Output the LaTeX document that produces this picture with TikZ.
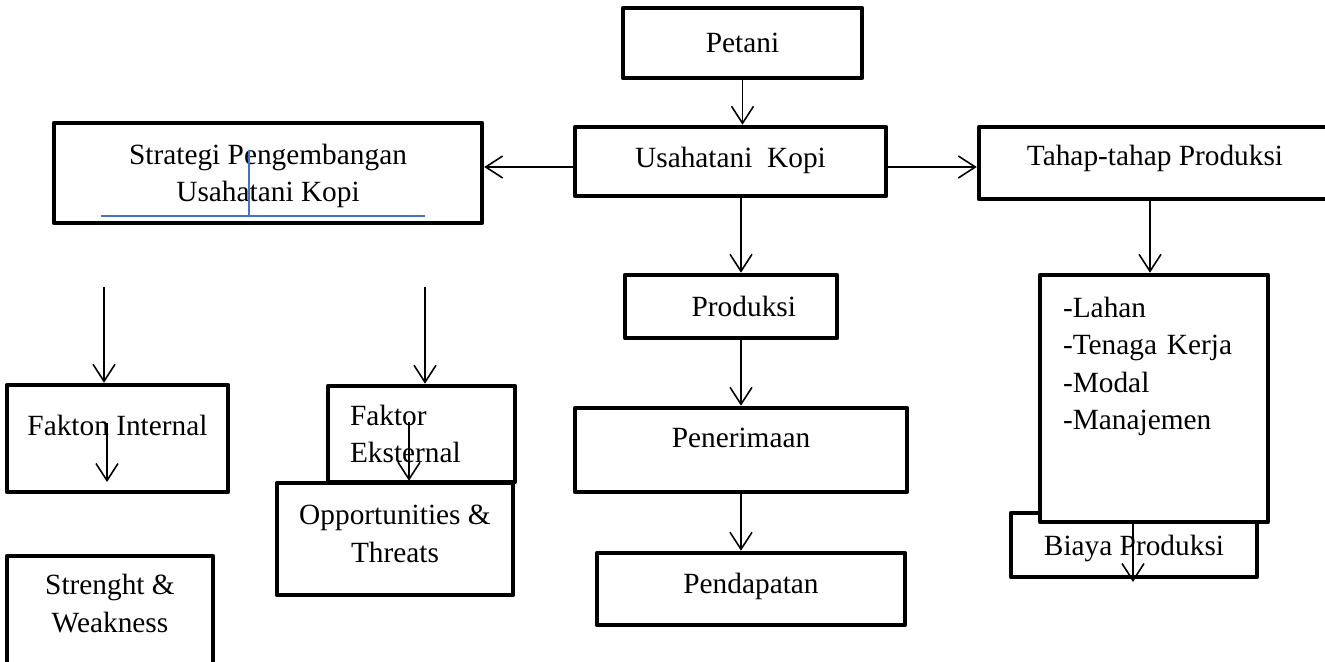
\documentclass[tikz,border=0pt]{standalone}
\usepackage{fontspec}
\setmainfont{Liberation Serif}
\usetikzlibrary{arrows.meta}
\definecolor{lineblue}{RGB}{68,114,196}

\tikzset{
  box/.style={draw, line width=2.6pt, line join=round, rectangle, inner sep=0pt,
    text depth=0pt, font=\fontsize{16.7}{21.4}\selectfont},
  arr/.style={line width=0.9pt, -{Straight Barb[length=3.4mm,width=4.4mm]}},
  blueline/.style={lineblue, line width=1.1pt}
}

\begin{document}
\begin{tikzpicture}[x=0.02cm, y=-0.02cm]
\useasboundingbox (0,0) rectangle (1325,662);
\clip (0,0) rectangle (1325,662);

% middle column
\node[box, minimum width=4.78cm, minimum height=1.4cm] (petani) at (742.5,43) {Petani};
\node[box, minimum width=6.22cm, minimum height=1.38cm, text depth=0.16cm] (usaha) at (730.5,161.5) {Usahatani\ \ Kopi};
\node[box, minimum width=4.24cm, minimum height=1.26cm, align=right, text width=2.6cm, inner xsep=0.82cm] (prod) at (731,306.5) {Produksi};
\node[box, minimum width=6.64cm, minimum height=1.68cm, text depth=0.48cm] (pener) at (741,450) {Penerimaan};
\node[box, minimum width=6.16cm, minimum height=1.44cm, text depth=0.24cm] (pend) at (751,589) {Pendapatan};

% left side
\node[box, minimum width=8.56cm, minimum height=2cm, align=center] (strat) at (268,173) {Strategi Pengembangan\\Usahatani Kopi};
\node[box, minimum width=4.42cm, minimum height=2.14cm, text depth=0.54cm] (fakin) at (117.5,438.5) {Fakton Internal};
\node[box, minimum width=3.74cm, minimum height=1.92cm, align=left, text width=2.86cm, inner xsep=0.44cm, text depth={}] (fakex) at (421.5,434) {Faktor\\Eksternal};
\node[box, fill=white, minimum width=4.72cm, minimum height=2.24cm, align=center, text depth=0.22cm] (opp) at (395,539) {Opportunities \&\\Threats};
\node[box, minimum width=4.12cm, minimum height=2.32cm, align=center, text depth=0.42cm] (sw) at (110,614) {Strenght \&\\Weakness};

% right side
\node[box, minimum width=7.04cm, minimum height=1.44cm, text depth=0.32cm] (tahap) at (1155,163) {Tahap-tahap Produksi};
\node[box, minimum width=4.92cm, minimum height=1.28cm] (biaya) at (1134,545) {Biaya Produksi};
\node[box, fill=white, minimum width=4.56cm, minimum height=4.94cm, align=left, text width=3.64cm, inner xsep=0.46cm, text depth=3.66cm] (faktor) at (1154,398.5) {-Lahan\\-Tenaga Kerja\\-Modal\\-Manajemen};

% guide coordinates
\coordinate (lvl) at (0,167);
\coordinate (midc) at (741,0);
\coordinate (rc) at (1150,0);
\coordinate (bc) at (1133,0);
\coordinate (bend) at (1133,582);
\coordinate (fin) at (104,287);
\coordinate (fex) at (425,287);
\coordinate (fin2) at (107,423);
\coordinate (finend) at (107,482);
\coordinate (fex2) at (409,422);

% arrows
\draw[arr] (petani.south) -- (petani.south |- usaha.north);
\draw[arr] (usaha.west |- lvl) -- (strat.east |- lvl);
\draw[arr] (usaha.east |- lvl) -- (tahap.west |- lvl);
\draw[arr] (usaha.south -| midc) -- (prod.north -| midc);
\draw[arr] (prod.south -| midc) -- (pener.north -| midc);
\draw[arr] (pener.south -| midc) -- (pend.north -| midc);
\draw[arr] (tahap.south -| rc) -- (faktor.north -| rc);
\draw[arr] (faktor.south -| bc) -- (bend);
\draw[arr] (fin) -- (fin |- fakin.north);
\draw[arr] (fex) -- (fex |- fakex.north);
\draw[arr] (fin2) -- (finend);
\draw[arr] (fex2) -- (fex2 |- opp.north);

% blue lines in the strategy box
\draw[blueline] (101,216) -- (425,216);
\draw[blueline] (249,150) -- (249,216);
\end{tikzpicture}
\end{document}
